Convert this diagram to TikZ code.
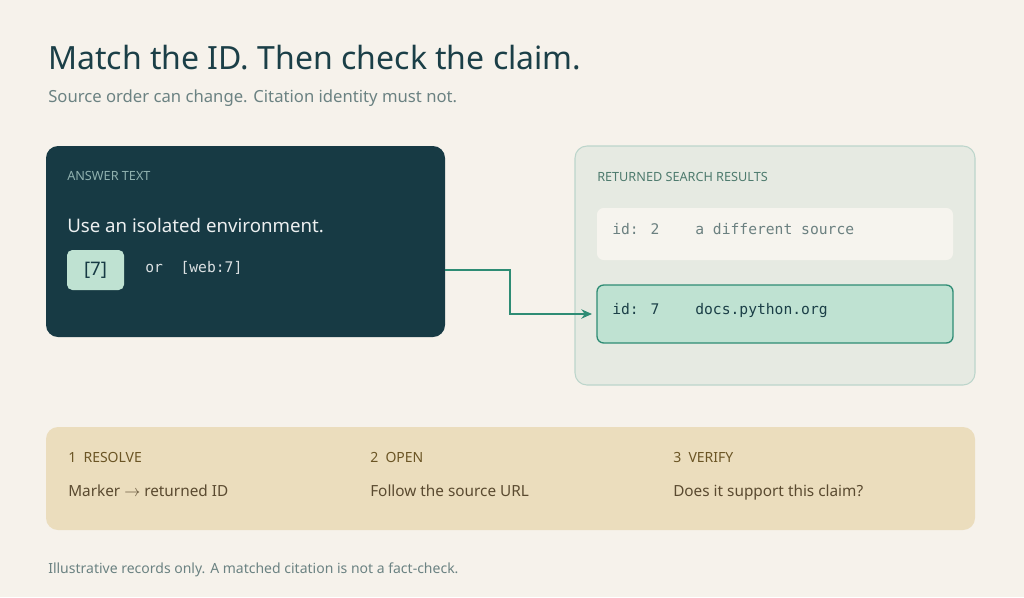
\documentclass[tikz,border=0pt]{standalone}
\usepackage{fontspec}
\setmainfont{Noto Sans}
\newfontfamily\mono{DejaVu Sans Mono}
\usetikzlibrary{arrows.meta}
\definecolor{bg}{HTML}{F6F2EB}
\definecolor{ttl}{HTML}{1B3F47}
\definecolor{sub}{HTML}{6B8282}
\definecolor{dark}{HTML}{173A44}
\definecolor{lab}{HTML}{8FB0AE}
\definecolor{mint}{HTML}{BFE2D2}
\definecolor{rbox}{HTML}{E6EAE2}
\definecolor{rbord}{HTML}{BCD5CB}
\definecolor{rlab}{HTML}{4E7B6E}
\definecolor{row}{HTML}{F6F4EE}
\definecolor{rowtxt}{HTML}{6B8080}
\definecolor{green}{HTML}{2E8C74}
\definecolor{sand}{HTML}{EBDDBD}
\definecolor{brown}{HTML}{6B5525}
\definecolor{btxt}{HTML}{5A4A30}
\begin{document}
\begin{tikzpicture}[x=0.75pt,y=-0.75pt,
  t/.style={anchor=base west,inner sep=0pt},
  panel/.style={rounded corners=9pt}]
\fill[bg] (0,0) rectangle (1024,597);
\useasboundingbox (0,0) rectangle (1024,597);
\node[t,text=ttl,font=\bfseries\fontsize{24}{28}\selectfont] (title) at (48,69) {Match the ID. Then check the claim.};
\node[t,text=sub,font=\fontsize{12.5}{15}\selectfont] (subt) at (48,102) {Source order can change. Citation identity must not.};
% left panel
\draw[panel,fill=dark,draw=none] (46,146) rectangle (445,337);
\node[t,text=lab,font=\bfseries\fontsize{9.5}{11}\selectfont] (al) at (67,180) {ANSWER TEXT};
\node[t,text=white!92!dark,font=\fontsize{14}{17}\selectfont] (ans) at (67,232) {Use an isolated environment.};
\fill[mint,rounded corners=4pt] (67,250) rectangle (124,290);
\node[text=dark,font=\bfseries\fontsize{14}{17}\selectfont] (b7) at (95.5,270) {[7]};
\node[t,text=white!85!dark,font=\mono\fontsize{11}{13}\selectfont] (web) at (145,272) {or\ \ [web:7]};
% right panel
\draw[panel,fill=rbox,draw=rbord,line width=0.8pt] (575,146) rectangle (975,385);
\node[t,text=rlab,font=\bfseries\fontsize{9.5}{11}\selectfont] (rl) at (597,181) {RETURNED SEARCH RESULTS};
\fill[row,rounded corners=5pt] (597,208) rectangle (953,260);
\node[t,text=rowtxt,font=\mono\fontsize{11}{13}\selectfont] (i2) at (612,234) {id: 2};
\node[t,text=rowtxt,font=\mono\fontsize{11}{13}\selectfont] (s2) at (695,234) {a different source};
\draw[fill=mint,draw=green,line width=1pt,rounded corners=5pt] (597,285) rectangle (953,343);
\node[t,text=ttl,font=\mono\fontsize{11}{13}\selectfont] (i7) at (612,314) {id: 7};
\node[t,text=ttl,font=\mono\fontsize{11}{13}\selectfont] (s7) at (695,314) {docs.python.org};
\coordinate (c1) at (445,270);
\coordinate (c2) at (592,314);
\draw[green,line width=2pt,-{Stealth[length=8pt,width=7pt]}] (c1) -- (510,270) -- (510,314) -- (c2);
% bottom
\fill[sand,rounded corners=9pt] (46,427) rectangle (975,530);
\foreach \x/\h/\b [count=\i] in {68/1\ \ RESOLVE/Marker $\to$ returned ID,370/2\ \ OPEN/Follow the source URL,673/3\ \ VERIFY/Does it support this claim?}{
  \node[t,text=brown,font=\bfseries\fontsize{10.5}{13}\selectfont] (h\i) at (\x,462) {\h};
  \node[t,text=btxt,font=\fontsize{11.5}{14}\selectfont] (d\i) at (\x,496) {\b};
}
\node[t,text=sub,font=\fontsize{10.5}{13}\selectfont] (foot) at (48,573) {Illustrative records only. A matched citation is not a fact-check.};
\end{tikzpicture}
\end{document}
